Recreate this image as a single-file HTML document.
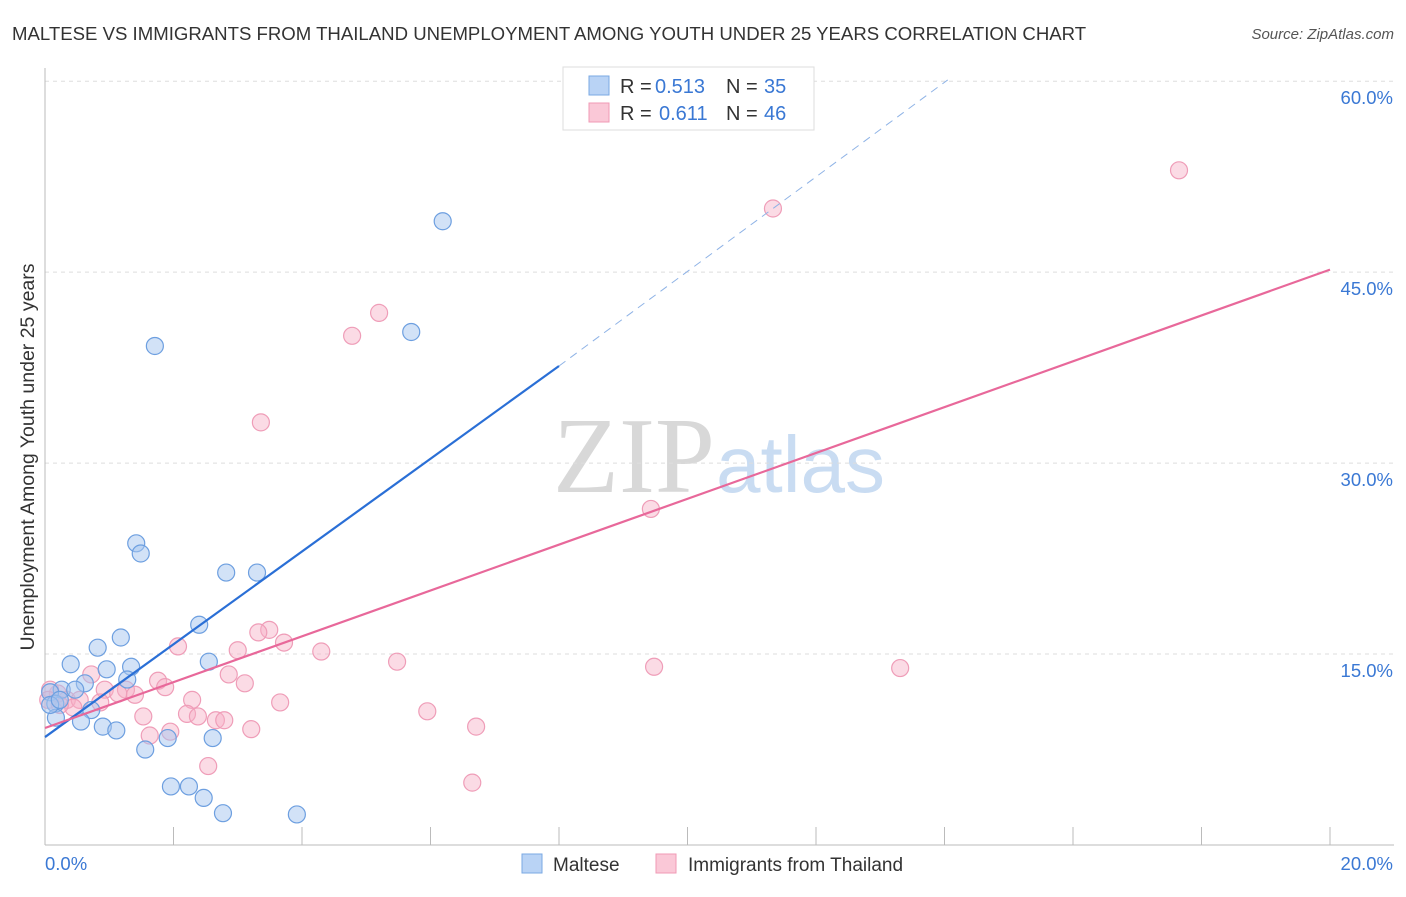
<!DOCTYPE html>
<html><head><meta charset="utf-8"><style>
body{margin:0;background:#fff;font-family:"Liberation Sans",sans-serif}
</style></head><body>
<svg width="1406" height="892" xmlns="http://www.w3.org/2000/svg" id="chart">
<text x="12" y="40" font-size="18.6" fill="#333">MALTESE VS IMMIGRANTS FROM THAILAND UNEMPLOYMENT AMONG YOUTH UNDER 25 YEARS CORRELATION CHART</text>
<text x="1394" y="39" font-size="15" fill="#555" font-style="italic" text-anchor="end">Source: ZipAtlas.com</text>
<text x="553" y="492" font-size="108" fill="#d8d8d8" font-family="Liberation Serif">ZIP</text>
<text x="716" y="492" font-size="80" fill="#c9dcf2">atlas</text>
<text transform="translate(34,457) rotate(-90)" font-size="19.5" fill="#333" text-anchor="middle">Unemployment Among Youth under 25 years</text>
<g id="grid"></g><g id="axes"></g><g id="marks"></g>
<g>
<rect x="563" y="67" width="251" height="63" fill="#fff" stroke="#ddd"/>
<rect x="589" y="76" width="20" height="19" fill="#b9d3f5" stroke="#7aa8e3"/>
<text x="620" y="93" font-size="20" fill="#333">R =</text>
<text x="655" y="93" font-size="20" fill="#3a78d4">0.513</text>
<text x="726" y="93" font-size="20" fill="#333">N =</text>
<text x="764" y="93" font-size="20" fill="#3a78d4">35</text>
<rect x="589" y="103" width="20" height="19" fill="#fac8d7" stroke="#f09ab5"/>
<text x="620" y="120" font-size="20" fill="#333">R =</text>
<text x="659" y="120" font-size="20" fill="#3a78d4">0.611</text>
<text x="726" y="120" font-size="20" fill="#333">N =</text>
<text x="764" y="120" font-size="20" fill="#3a78d4">46</text>
</g>
<g>
<rect x="522" y="854" width="20" height="19" fill="#b9d3f5" stroke="#7aa8e3"/>
<text x="553" y="871" font-size="19" fill="#333">Maltese</text>
<rect x="656" y="854" width="20" height="19" fill="#fac8d7" stroke="#f09ab5"/>
<text x="688" y="871" font-size="19" fill="#333">Immigrants from Thailand</text>
</g>
</svg>
<script>
const xTicks=[0,2,4,6,8,10,12,14,16,18,20];
const yTicks=[15,30,45,60];
const blueX=[6.19,5.70,1.71,1.42,1.49,2.82,3.30,2.40,1.18,0.82,0.40,2.55,1.34,0.96,0.62,1.28,0.26,0.47,0.08,0.16,0.72,0.17,0.56,0.90,1.11,1.56,1.91,2.61,1.96,2.24,2.47,2.77,3.92,0.08,0.23];
const blueY=[49.0,40.3,39.2,23.7,22.9,21.4,21.4,17.3,16.3,15.5,14.2,14.4,14.0,13.8,12.7,13.0,12.2,12.2,12.0,11.1,10.6,10.0,9.7,9.3,9.0,7.5,8.4,8.4,4.6,4.6,3.7,2.5,2.4,11.0,11.4];
const pinkX=[17.65,11.33,5.20,4.78,3.36,9.43,2.07,3.49,3.32,3.72,3.00,4.30,5.48,9.48,13.31,0.72,2.86,1.76,3.11,1.87,0.93,1.26,1.40,1.14,2.29,3.66,0.20,0.34,0.08,0.54,1.53,2.21,2.66,2.79,2.38,3.21,5.95,6.71,1.63,1.95,2.54,6.65,0.86,0.44,0.05,0.23];
const pinkY=[53.0,50.0,41.8,40.0,33.2,26.4,15.6,16.9,16.7,15.9,15.3,15.2,14.4,14.0,13.9,13.4,13.4,12.9,12.7,12.4,12.2,12.2,11.8,11.9,11.4,11.2,11.9,11.4,12.2,11.4,10.1,10.3,9.8,9.8,10.1,9.1,10.5,9.3,8.6,8.9,6.2,4.9,11.2,10.8,11.4,11.0];
const blueLine=[0,8.48,8,37.63,14.05,60.1];
const pinkLine=[0,9.19,20,45.2];
const NS='http://www.w3.org/2000/svg';
const X=v=>45+v*64.25, Y=v=>845-v*12.73;
function mk(p,t,a){const e=document.createElementNS(NS,t);for(const k in a)e.setAttribute(k,a[k]);document.getElementById(p).appendChild(e);return e;}
yTicks.forEach(t=>{
 const g=mk('grid','line',{x1:45,x2:1394,y1:Y(t),y2:Y(t),stroke:'#ddd','stroke-dasharray':'4,4'});
 
 
 const l=mk('axes','text',{x:1393,y:Y(t)+23,'font-size':18.5,fill:'#3a78d4','text-anchor':'end'});
 l.textContent=t.toFixed(1)+'%';
 
 
});
const ax=mk('axes','line',{x1:45,x2:1394,y1:845,y2:845,stroke:'#bbb'});


const ay=mk('axes','line',{x1:45,x2:45,y1:68,y2:845,stroke:'#bbb'});


xTicks.forEach(t=>{
 const k=mk('axes','line',{x1:X(t),x2:X(t),y1:827,y2:845,stroke:'#bbb'});
 
 
});
[[0,'0.0%','start',45],[20,'20.0%','end',1393]].forEach(a=>{
 const l=mk('axes','text',{x:a[3],y:870,'font-size':18.5,fill:'#3a78d4','text-anchor':a[2]});
 l.textContent=a[1];
 
 
});
pinkX.forEach((v,i)=>{
 const c=mk('marks','circle',{cx:X(v),cy:Y(pinkY[i]),r:8.5,fill:'rgba(246,175,198,0.45)',stroke:'#ef9db8','stroke-width':1.2});
 
 
});
blueX.forEach((v,i)=>{
 const c=mk('marks','circle',{cx:X(v),cy:Y(blueY[i]),r:8.5,fill:'rgba(165,198,240,0.5)',stroke:'#6d9fe0','stroke-width':1.2});
 
 
});
const bl=mk('marks','line',{x1:X(blueLine[0]),y1:Y(blueLine[1]),x2:X(blueLine[2]),y2:Y(blueLine[3]),stroke:'#2a6fd6','stroke-width':2.2});


const bd=mk('marks','line',{x1:X(blueLine[2]),y1:Y(blueLine[3]),x2:X(blueLine[4]),y2:Y(blueLine[5]),stroke:'#8fb3e6','stroke-width':1,'stroke-dasharray':'8,6'});


const pl=mk('marks','line',{x1:X(pinkLine[0]),y1:Y(pinkLine[1]),x2:X(pinkLine[2]),y2:Y(pinkLine[3]),stroke:'#e8689a','stroke-width':2.2});


</script>
</body></html>
